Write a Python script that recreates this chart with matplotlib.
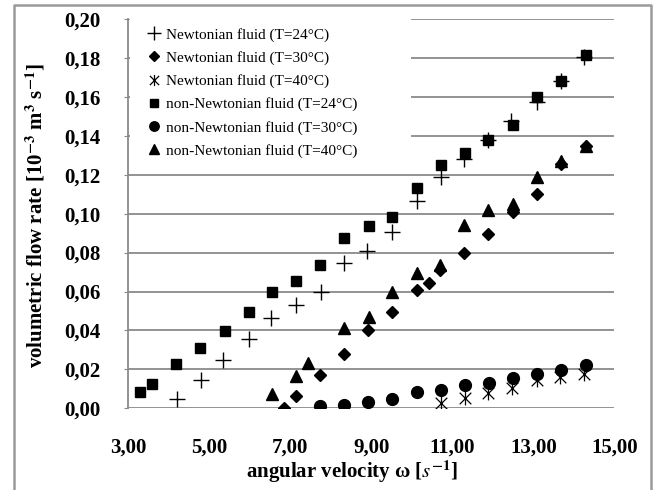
import matplotlib
matplotlib.use('Agg')
import matplotlib.pyplot as plt
from matplotlib.path import Path
from matplotlib.patches import Rectangle
from matplotlib.lines import Line2D

plt.rcParams['font.family'] = ['Liberation Serif', 'DejaVu Serif']
plt.rcParams['mathtext.fontset'] = 'stix'

# --- data ---
x_newt24 = [4.20, 4.80, 5.35, 5.97, 6.53, 7.14, 7.75, 8.32, 8.90, 9.52, 10.14,
            10.73, 11.29, 11.87, 12.45, 13.08, 13.69, 14.26]
y_newt24 = [0.005, 0.0145, 0.025, 0.0355, 0.0465, 0.0533, 0.0595, 0.0747, 0.0808,
            0.0906, 0.1065, 0.1188, 0.1282, 0.1376, 0.1475, 0.1572, 0.1684, 0.1803]

x_newt30 = [6.84, 7.13, 7.73, 8.32, 8.93, 9.52, 10.14, 10.43, 10.70, 11.29,
            11.87, 12.49, 13.08, 13.69, 14.29]
y_newt30 = [0.0003, 0.0063, 0.0171, 0.0278, 0.0402, 0.0495, 0.0607, 0.0646, 0.0709,
            0.0800, 0.0897, 0.1010, 0.1103, 0.1256, 0.1350]

x_newt40 = [10.72, 11.31, 11.89, 12.47, 13.08, 13.67, 14.26]
y_newt40 = [0.0026, 0.0051, 0.0080, 0.0103, 0.0145, 0.0162, 0.0176]

x_non24 = [3.29, 3.58, 4.18, 4.77, 5.38, 5.99, 6.55, 7.13, 7.74, 8.32, 8.94, 9.52,
           10.14, 10.72, 11.31, 11.87, 12.49, 13.08, 13.69, 14.30]
y_non24 = [0.0085, 0.0125, 0.0226, 0.031, 0.0396, 0.0495, 0.0596, 0.0653, 0.0735,
           0.0875, 0.0937, 0.0983, 0.1133, 0.1251, 0.1313, 0.138, 0.1453, 0.1598,
           0.1684, 0.1817]

x_non30 = [7.74, 8.32, 8.93, 9.52, 10.14, 10.72, 11.31, 11.91, 12.49, 13.08, 13.69, 14.29]
y_non30 = [0.0013, 0.0017, 0.0031, 0.0048, 0.0085, 0.0094, 0.012, 0.0128, 0.0154,
           0.0176, 0.0196, 0.0222]

x_non40 = [6.55, 7.13, 7.44, 8.32, 8.94, 9.52, 10.14, 10.70, 11.29, 11.87, 12.49,
           13.08, 13.69, 14.29]
y_non40 = [0.0073, 0.0167, 0.0231, 0.041, 0.047, 0.0598, 0.0695, 0.0735, 0.094,
           0.1017, 0.1051, 0.1188, 0.1273, 0.135]

x_ticks = [3, 5, 7, 9, 11, 13, 15]
y_ticks = [0.00, 0.02, 0.04, 0.06, 0.08, 0.10, 0.12, 0.14, 0.16, 0.18, 0.20]

labels = ['Newtonian fluid (T=24°C)', 'Newtonian fluid (T=30°C)',
          'Newtonian fluid (T=40°C)', 'non-Newtonian fluid (T=24°C)',
          'non-Newtonian fluid (T=30°C)', 'non-Newtonian fluid (T=40°C)']

# excel-like star marker: X with a vertical bar
star = Path([(-1, -1), (1, 1), (-1, 1), (1, -1), (0, -1.2), (0, 1.2)],
            [Path.MOVETO, Path.LINETO, Path.MOVETO, Path.LINETO, Path.MOVETO, Path.LINETO])

fig = plt.figure(figsize=(6.55, 4.9), dpi=100)
ax = fig.add_axes([128.3 / 655, 1 - 408.3 / 490, 486 / 655, 389.3 / 490])

k = 'black'
ax.plot(x_newt24, y_newt24, ls='none', marker='+', ms=12, mew=1.0, color=k, label=labels[0], zorder=3)
ax.plot(x_newt30, y_newt30, ls='none', marker='D', ms=6, color=k, label=labels[1], zorder=3)
ax.plot(x_newt40, y_newt40, ls='none', marker=star, ms=10, mew=0.9, color=k, label=labels[2], zorder=3)
ax.plot(x_non24, y_non24, ls='none', marker='s', ms=7.5, color=k, label=labels[3], zorder=3)
ax.plot(x_non30, y_non30, ls='none', marker='o', ms=8.5, color=k, label=labels[4], zorder=3)
ax.plot(x_non40, y_non40, ls='none', marker='^', ms=8.5, color=k, label=labels[5], zorder=3)

ax.set_xlim(3, 15)
ax.set_ylim(0, 0.2)
ax.set_xticks(x_ticks)
ax.set_yticks(y_ticks)
ax.set_xticklabels([f'{v:.2f}'.replace('.', ',') for v in x_ticks])
ax.set_yticklabels([f'{v:.2f}'.replace('.', ',') for v in y_ticks])
for lab in ax.get_xticklabels() + ax.get_yticklabels():
    lab.set_fontsize(15)
    lab.set_fontweight('bold')

ax.set_axisbelow(True)
ax.yaxis.grid(True, color='#8a8a8a', lw=1.3)
ax.tick_params(axis='y', direction='out', length=3, color='#8a8a8a', pad=17)
ax.tick_params(axis='x', length=0, pad=21)
for s in ['top', 'right', 'bottom']:
    ax.spines[s].set_visible(False)
ax.spines['left'].set_color('#8a8a8a')
ax.spines['left'].set_linewidth(1.3)

# white area behind the legend hides the grid there
ax.add_patch(Rectangle((0.003, 0.625), 0.578, 0.4, transform=ax.transAxes,
                       facecolor='white', edgecolor='none', zorder=1, clip_on=False))

leg = ax.legend(loc='upper left', bbox_to_anchor=(139 / 655, 1 - 20 / 490),
                bbox_transform=fig.transFigure, frameon=False, fontsize=11,
                handlelength=1.0, handletextpad=0.3, labelspacing=0.61,
                borderpad=0, markerscale=0.8)

fig.text(352 / 655, 1 - 472 / 490, r'angular velocity ω [$\mathit{s}^{\mathbf{-1}}$]',
         ha='center', va='center', fontsize=15, fontweight='bold')
fig.text(36 / 655, 1 - 216 / 490,
         r'volumetric flow rate [10$^{\mathbf{-3}}$ m$^{\mathbf{3}}$ s$^{\mathbf{-1}}$]',
         ha='center', va='center', rotation=90, fontsize=15, fontweight='bold')

# grey outer frame (left, top, right)
fig.add_artist(Line2D([14 / 655, 14 / 655, 651 / 655, 651 / 655],
                      [0, 1 - 5 / 490, 1 - 5 / 490, 0],
                      transform=fig.transFigure, color='#9a9a9a', lw=1.8))

fig.savefig('out.png', dpi=100)
